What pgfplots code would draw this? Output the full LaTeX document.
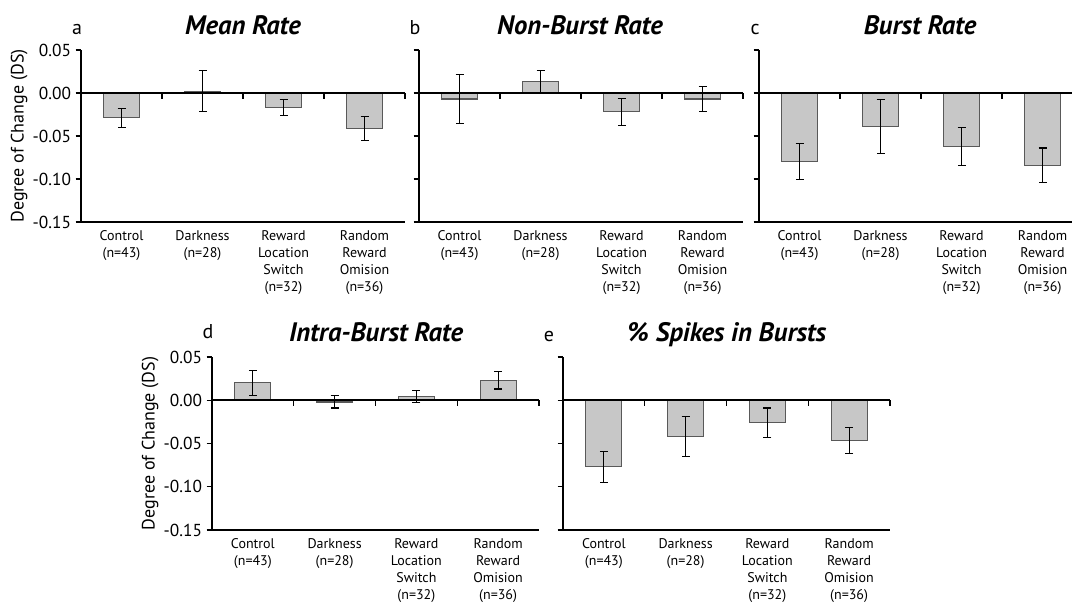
\documentclass[border=0pt]{standalone}
\usepackage{pgfplots}
\pgfplotsset{compat=1.18}
\usepackage{fontspec}
\setmainfont{PT Sans}

\pgfplotstableread{
x y e
1 -0.029 0.011
2 0.002 0.024
3 -0.017 0.009
4 -0.041 0.014
}\meanrate
\pgfplotstableread{
x y e
1 -0.007 0.028
2 0.013 0.013
3 -0.022 0.016
4 -0.007 0.015
}\nonburst
\pgfplotstableread{
x y e
1 -0.080 0.021
2 -0.039 0.031
3 -0.062 0.022
4 -0.084 0.020
}\burstrate
\pgfplotstableread{
x y e
1 0.020 0.014
2 -0.002 0.007
3 0.004 0.007
4 0.023 0.010
}\intraburst
\pgfplotstableread{
x y e
1 -0.077 0.018
2 -0.042 0.023
3 -0.026 0.017
4 -0.047 0.015
}\spikes

\pgfplotsset{
  panel/.style={
    scale only axis, width=243pt, height=129pt, anchor=south west,
    xmin=0.5, xmax=4.5, ymin=-0.15, ymax=0.05,
    ytick={-0.15,-0.1,-0.05,0,0.05},
    yticklabels={},
    xtick={1,2,3,4},
    xticklabels={Control\\(n=43),Darkness\\(n=28),Reward\\Location\\Switch\\(n=32),Random\\Reward\\Omision\\(n=36)},
    xticklabel style={align=center, font=\fontsize{10.5}{12.8}\selectfont, inner sep=2pt},
    yticklabel style={font=\fontsize{13}{15}\selectfont},
    ylabel style={font=\fontsize{13.5}{16}\selectfont, xshift=0pt, yshift=-3pt},
    axis lines*=left,
    axis line style={line width=1.6pt, -},
    xtick pos=bottom, ytick pos=left,
    xtick style={draw=none},
    ytick style={line width=1.1pt, black},
    major tick length=4pt,
    tick align=outside,
    ybar, bar width=0.44, bar shift=0pt,
    clip=false,
  },
  barsty/.style={fill=black!22, draw=black!65, line width=0.8pt,
    error bars/.cd, y dir=both, y explicit,
    error mark=-,
    error bar style={black, line width=0.8pt, solid},
    error mark options={rotate=90, draw=black, mark size=3pt, line width=0.8pt, solid}},
}

\newcommand{\zerobase}[1]{%
  \draw[line width=1.6pt] (axis cs:0.5,0) -- (axis cs:#1,0);
  \draw[line width=1.1pt] (axis cs:1.5,0) -- ([yshift=-4.5pt]axis cs:1.5,0);
  \draw[line width=1.1pt] (axis cs:2.5,0) -- ([yshift=-4.5pt]axis cs:2.5,0);
  \draw[line width=1.1pt] (axis cs:3.5,0) -- ([yshift=-4.5pt]axis cs:3.5,0);
}
\newcommand{\lasttick}{\draw[line width=1.1pt] (axis cs:4.5,0) -- ([yshift=-4.5pt]axis cs:4.5,0);}

\begin{document}
\begin{tikzpicture}
\useasboundingbox (0,0) rectangle (804.75pt,453.75pt);

% a
\begin{axis}[panel, at={(60.75pt,287.25pt)},
  yticklabels={-0.15,-0.10,-0.05,0.00,0.05},
  ylabel={Degree of Change (DS)}]
\addplot[barsty] table[x=x,y=y,y error=e] {\meanrate};
\zerobase{4.5}\lasttick
\end{axis}

% b
\begin{axis}[panel, at={(314.25pt,287.25pt)}]
\addplot[barsty] table[x=x,y=y,y error=e] {\nonburst};
\zerobase{4.5}\lasttick
\end{axis}

% c
\begin{axis}[panel, at={(569.25pt,287.25pt)}, width=234.75pt, xmax=4.364]
\addplot[barsty] table[x=x,y=y,y error=e] {\burstrate};
\zerobase{4.364}
\end{axis}

% d
\begin{axis}[panel, at={(159pt,56.25pt)}, width=245.25pt, height=129.75pt,
  yticklabels={-0.15,-0.10,-0.05,0.00,0.05},
  ylabel={Degree of Change (DS)}]
\addplot[barsty] table[x=x,y=y,y error=e] {\intraburst};
\zerobase{4.5}\lasttick
\end{axis}

% e
\begin{axis}[panel, at={(422.25pt,56.25pt)}, width=245.25pt, height=129.75pt]
\addplot[barsty] table[x=x,y=y,y error=e] {\spikes};
\zerobase{4.5}\lasttick
\end{axis}

% titles
\begin{scope}[every node/.style={anchor=base, font=\fontsize{20}{24}\selectfont\bfseries\itshape, inner sep=0pt}]
\node at (182.25pt,427.5pt) {Mean Rate};
\node at (435pt,427.5pt) {Non-Burst Rate};
\node at (690pt,427.5pt) {Burst Rate};
\node at (282pt,197.25pt) {Intra-Burst Rate};
\node at (545.25pt,197.25pt) {\% Spikes in Bursts};
\end{scope}
% panel letters
\begin{scope}[every node/.style={anchor=base, font=\fontsize{15}{18}\selectfont, inner sep=0pt}]
\node at (57.75pt,427.5pt) {a};
\node at (311.25pt,427.5pt) {b};
\node at (566.25pt,427.5pt) {c};
\node at (156pt,200pt) {d};
\node at (411.75pt,197.25pt) {e};
\end{scope}
\end{tikzpicture}
\end{document}
